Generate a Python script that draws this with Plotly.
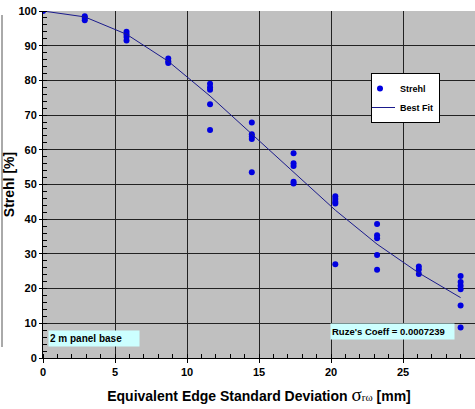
import plotly.graph_objects as go

# Measured Strehl points (x = equivalent edge std dev in mm, y = Strehl %)
strehl_x = [0,
            2.9, 2.9, 2.9,
            5.8, 5.8, 5.8, 5.8,
            8.7, 8.7, 8.7,
            11.6, 11.6, 11.6, 11.6, 11.6,
            14.5, 14.5, 14.5, 14.5, 14.5,
            17.4, 17.4, 17.4, 17.4, 17.4,
            20.3, 20.3, 20.3, 20.3, 20.3,
            23.2, 23.2, 23.2, 23.2, 23.2,
            26.1, 26.1, 26.1,
            29.0, 29.0, 29.0, 29.0, 29.0, 29.0]
strehl_y = [100,
            98.5, 98.0, 97.3,
            94.0, 93.3, 92.5, 91.5,
            86.3, 85.5, 85.0,
            79.0, 78.0, 77.3, 73.1, 65.7,
            67.9, 64.5, 63.8, 63.1, 53.5,
            59.0, 56.1, 55.3, 50.8, 50.3,
            46.6, 45.8, 45.0, 44.5, 27.0,
            38.6, 35.4, 34.5, 29.7, 25.4,
            26.4, 25.5, 24.2,
            23.6, 21.9, 20.8, 19.8, 15.1, 8.8]

# Best fit curve
fit_x = [0, 2.9, 5.8, 8.7, 11.6, 14.5, 17.4, 20.3, 23.2, 26.1, 29.0]
fit_y = [100, 98.3, 93.3, 85.5, 75.5, 64.5, 53.4, 42.6, 32.8, 24.5, 17.4]

x_ticks = [0, 5, 10, 15, 20, 25, 30]
y_ticks = [0, 10, 20, 30, 40, 50, 60, 70, 80, 90, 100]

FONT = "Arial, Liberation Sans, sans-serif"

fig = go.Figure()
fig.add_trace(go.Scatter(x=strehl_x, y=strehl_y, mode="markers", name="Strehl",
                         marker=dict(color="#0000E0", size=6, line=dict(width=0))))
fig.add_trace(go.Scatter(x=fit_x, y=fit_y, mode="lines", name="Best Fit",
                         line=dict(color="#1a1a8c", width=1)))

W, H = 475, 409
L, R, T, B = 43, 0, 11, 51
pw, ph = W - L - R, H - T - B

def px(x):
    return (x - L) / pw

def py(y):
    return (H - B - y) / ph

fig.update_layout(
    width=W, height=H,
    margin=dict(l=L, r=R, t=T, b=B, autoexpand=False),
    paper_bgcolor="white",
    plot_bgcolor="#C0C0C0",
    font=dict(family=FONT, size=11, color="black"),
    showlegend=True,
    legend=dict(x=px(371), y=py(73), xanchor="left", yanchor="top",
                bgcolor="white", bordercolor="black", borderwidth=1,
                font=dict(family=FONT, size=9, color="black", weight="bold"),
                itemwidth=30, tracegroupgap=0, indentation=-12),
    xaxis=dict(range=[0, 30], tickvals=x_ticks, ticktext=[str(v) for v in x_ticks],
               automargin=False,
               showgrid=True, gridcolor="#222222", gridwidth=1,
               showline=True, linecolor="black", linewidth=1,
               ticks="outside", ticklen=4, tickcolor="black",
               minor=dict(dtick=1, ticks="inside", ticklen=4, tickcolor="black", showgrid=False),
               tickfont=dict(family=FONT, size=11, weight="bold"),
               zeroline=False,
               title=dict(text="Equivalent Edge Standard Deviation "
                               "<span style='font-family:Liberation Serif, Times New Roman, serif;font-size:19px;font-weight:normal'>σ</span>"
                               "<span style='font-family:Liberation Serif, Times New Roman, serif;font-size:11px;font-weight:normal'>rω</span> [mm]",
                          font=dict(family=FONT, size=14, weight="bold"), standoff=13)),
    yaxis=dict(range=[0, 100], tickvals=y_ticks, ticktext=[str(v) for v in y_ticks],
               automargin=False,
               showgrid=True, gridcolor="#222222", gridwidth=1,
               showline=True, linecolor="black", linewidth=1,
               ticks="outside", ticklen=3, tickcolor="black",
               minor=dict(dtick=2, ticks="inside", ticklen=4, tickcolor="black", showgrid=False),
               tickfont=dict(family=FONT, size=11, weight="bold"),
               zeroline=False,
               title=dict(text="Strehl [%]", font=dict(family=FONT, size=14, weight="bold"),
                          standoff=0)),
)

fig.add_annotation(xref="paper", yref="paper", x=px(48), y=py(347),
                   xanchor="left", yanchor="bottom", text="2 m panel base",
                   showarrow=False, bgcolor="#CCFFFF", width=88, height=13, align="left",
                   font=dict(family=FONT, size=10, weight="bold", color="black"))
fig.add_annotation(xref="paper", yref="paper", x=px(330), y=py(340),
                   xanchor="left", yanchor="bottom", text="Ruze's Coeff = 0.0007239",
                   showarrow=False, bgcolor="#CCFFFF", width=121, height=13, align="left",
                   font=dict(family=FONT, size=9.5, weight="bold", color="black"))

fig.add_shape(type="line", xref="paper", yref="paper", x0=px(2), x1=px(2), y0=py(15), y1=py(347),
              line=dict(color="#555555", width=1))

fig.write_html("out.html",
               config={"displayModeBar": False},
               post_script="document.body.style.margin='0';document.body.style.overflow='hidden';"
                           "document.documentElement.style.overflow='hidden';")
